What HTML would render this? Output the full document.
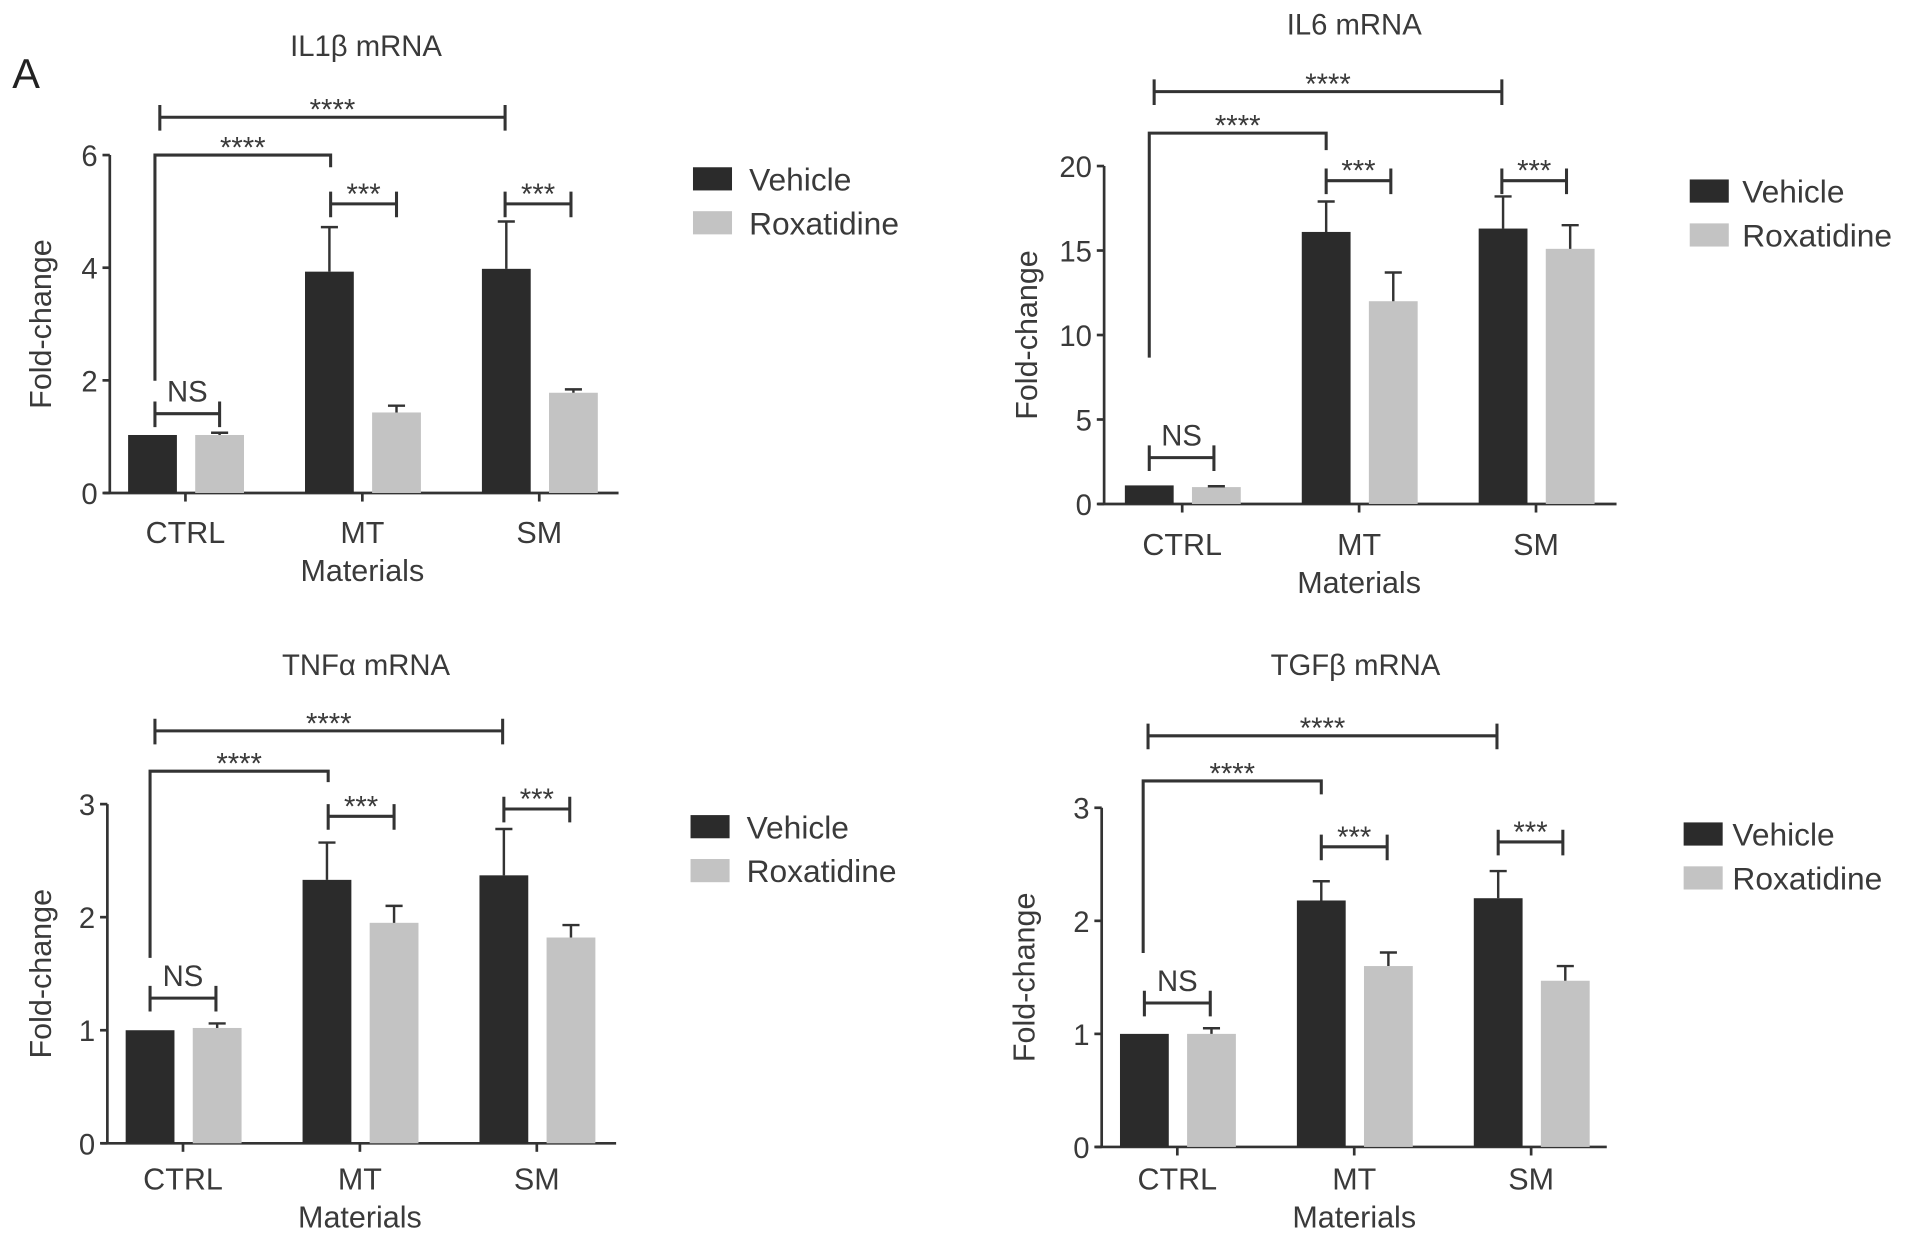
<!DOCTYPE html>
<html><head><meta charset="utf-8">
<style>
html,body{margin:0;padding:0;background:#fff;}
svg{display:block;font-family:"Liberation Sans",sans-serif;}
</style></head>
<body>
<svg id="fig" width="1913" height="1241" viewBox="0 0 1568 1017" xmlns="http://www.w3.org/2000/svg">
<text x="10" y="72" font-size="34" fill="#222">A</text>
</svg>
<script>
const categories = ["CTRL","MT","SM"];
const il1bVehicle = [1.03, 3.93, 3.98];
const il1bVehicleErr = [0, 0.79, 0.84];
const il1bRox = [1.03, 1.43, 1.78];
const il1bRoxErr = [0.04, 0.12, 0.06];
const il1bTicks = [0, 2, 4, 6];
const il6Vehicle = [1.1, 16.1, 16.3];
const il6VehicleErr = [0, 1.8, 1.9];
const il6Rox = [1.0, 12.0, 15.1];
const il6RoxErr = [0.05, 1.7, 1.4];
const il6Ticks = [0, 5, 10, 15, 20];
const tnfVehicle = [1.0, 2.33, 2.37];
const tnfVehicleErr = [0, 0.33, 0.41];
const tnfRox = [1.02, 1.95, 1.82];
const tnfRoxErr = [0.04, 0.15, 0.11];
const tnfTicks = [0, 1, 2, 3];
const tgfVehicle = [1.0, 2.18, 2.2];
const tgfVehicleErr = [0, 0.17, 0.24];
const tgfRox = [1.0, 1.6, 1.47];
const tgfRoxErr = [0.05, 0.12, 0.13];
const tgfTicks = [0, 1, 2, 3];

const svg = document.getElementById('fig');
const NS = 'http://www.w3.org/2000/svg';
function mk(tag, attrs, parent){
  const e = document.createElementNS(NS, tag);
  for (const k in attrs) e.setAttribute(k, attrs[k]);
  (parent||svg).appendChild(e);
  return e;
}
function txt(s, x, y, size, parent, anchor){
  const t = mk('text', {x:x, y:y, 'font-size':size, fill:'#3a3a3a', 'text-anchor':anchor||'middle'}, parent);
  t.textContent = s;
  return t;
}

const panels = [
  {id:'il1b', title:'IL1\u03b2 mRNA', tx:300, ty:46, ax:90, y0:404, yTop:127, max:6, xEnd:507, grp0:105, veh:il1bVehicle, vehE:il1bVehicleErr, rox:il1bRox, roxE:il1bRoxErr, ticks:il1bTicks, ylx:42, catY:445, matY:476, leg:[568,137,614],
   br:{topY:96, topX:[131,414], secX:127, secBot:312, secY:127, secEnd:271, secDown:137, mt:[271,325,167], sm:[414,468,167], ns:[127,180,339]}},
  {id:'il6', title:'IL6 mRNA', tx:1110, ty:28, ax:905, y0:413, yTop:136, max:20, xEnd:1325, grp0:922, veh:il6Vehicle, vehE:il6VehicleErr, rox:il6Rox, roxE:il6RoxErr, ticks:il6Ticks, ylx:850, catY:455, matY:486, leg:[1385,147,1428],
   br:{topY:75, topX:[946,1231], secX:942, secBot:293, secY:109, secEnd:1087, secDown:123, mt:[1087,1140,148], sm:[1231,1284,148], ns:[942,995,375]}},
  {id:'tnf', title:'TNF\u03b1 mRNA', tx:300, ty:553, ax:88, y0:937, yTop:659, max:3, xEnd:505, grp0:103, veh:tnfVehicle, vehE:tnfVehicleErr, rox:tnfRox, roxE:tnfRoxErr, ticks:tnfTicks, ylx:42, catY:975, matY:1006, leg:[566,668,612],
   br:{topY:599, topX:[127,412], secX:123, secBot:785, secY:632, secEnd:269, secDown:641, mt:[269,323,669], sm:[413,467,663], ns:[123,177,818]}},
  {id:'tgf', title:'TGF\u03b2 mRNA', tx:1111, ty:553, ax:903, y0:940, yTop:662, max:3, xEnd:1317, grp0:918, veh:tgfVehicle, vehE:tgfVehicleErr, rox:tgfRox, roxE:tgfRoxErr, ticks:tgfTicks, ylx:848, catY:975, matY:1006, leg:[1380,674,1420],
   br:{topY:603, topX:[941,1227], secX:937, secBot:781, secY:640, secEnd:1083, secDown:651, mt:[1083,1137,694], sm:[1228,1281,690], ns:[938,992,822]}}
];

panels.forEach(p => {
  const g = mk('g', {});
  
  
  const yS = v => p.y0 - v / p.max * (p.y0 - p.yTop);
  const xS = (ci, s) => p.grp0 + ci * 145 + s * 55;
  const bw = 40;
  const stroke = {stroke:'#333', 'stroke-width':2.2, fill:'none'};

  const t = txt(p.title, p.tx, p.ty, 24, g);
  
  

  const ya = mk('line', Object.assign({x1:p.ax, y1:p.yTop, x2:p.ax, y2:p.y0}, stroke), g);
  
  
  const xa = mk('line', Object.assign({x1:p.ax-5, y1:p.y0, x2:p.xEnd, y2:p.y0}, stroke), g);
  
  
  p.ticks.forEach(v => {
    mk('line', Object.assign({x1:p.ax-6, y1:yS(v), x2:p.ax, y2:yS(v)}, stroke), g);
    const tl = txt(String(v), p.ax-10, yS(v)+9, 24, g, 'end');
    
    
  });
  const yl = txt('Fold-change', 0, 0, 25, g);
  yl.setAttribute('transform', `translate(${p.ylx},${(p.y0+p.yTop)/2}) rotate(-90)`);
  
  

  categories.forEach((c, i) => {
    const cx = xS(i, 0) + 47;
    mk('line', Object.assign({x1:cx, y1:p.y0, x2:cx, y2:p.y0+7}, stroke), g);
    const cl = txt(c, cx, p.catY, 25, g);
    
    
    [[p.veh, p.vehE, '#2b2b2b', 'vehicle'], [p.rox, p.roxE, '#c3c3c3', 'roxatidine']].forEach((s, si) => {
      const v = s[0][i], e = s[1][i], x = xS(i, si);
      const r = mk('rect', {x:x, y:yS(v), width:bw, height:p.y0 - yS(v), fill:s[2]}, g);
      
      
      if (e > 0) {
        const eb = mk('path', {d:`M${x+bw/2},${yS(v)} V${yS(v+e)} M${x+bw/2-7},${yS(v+e)} H${x+bw/2+7}`, stroke:'#333', 'stroke-width':2, fill:'none'}, g);
        
        
      }
    });
  });
  const ml = txt('Materials', xS(1,0)+47, p.matY, 25, g);
  
  

  const b = p.br;
  const bs = {stroke:'#333', 'stroke-width':2.5, fill:'none'};
  function bracket(x1, x2, y, label, ly){
    const pa = mk('path', Object.assign({d:`M${x1},${y-10} V${y+11} M${x1},${y} H${x2} M${x2},${y-10} V${y+11}`}, bs), g);
    
    
    const l = txt(label, (x1+x2)/2, ly, 24, g);
    
    
  }
  bracket(b.topX[0], b.topX[1], b.topY, '****', b.topY + 2);
  const sec = mk('path', Object.assign({d:`M${b.secX},${b.secBot} V${b.secY} H${b.secEnd} V${b.secDown}`}, bs), g);
  
  
  const sl = txt('****', (b.secX + b.secEnd)/2, b.secY + 2, 24, g);
  
  
  bracket(b.mt[0], b.mt[1], b.mt[2], '***', b.mt[2]);
  bracket(b.sm[0], b.sm[1], b.sm[2], '***', b.sm[2]);
  bracket(b.ns[0], b.ns[1], b.ns[2], 'NS', b.ns[2] - 10);

  const L = p.leg;
  const lg = mk('g', {}, g);
  
  
  [['Vehicle','#2b2b2b'],['Roxatidine','#c3c3c3']].forEach((it, k) => {
    const r = mk('rect', {x:L[0], y:L[1] + k*36, width:32, height:19, fill:it[1]}, lg);
    
    
    const lt = txt(it[0], L[2], L[1] + k*36 + 19, 26, lg, 'start');
    
    
  });
});
</script>
</body></html>
